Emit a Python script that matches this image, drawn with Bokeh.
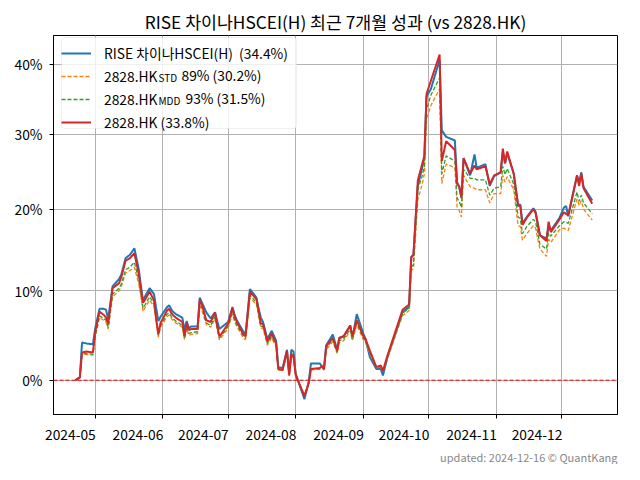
import pandas as pd
from bokeh.plotting import figure
from bokeh.models import (ColumnDataSource, Range1d, FixedTicker, CustomJSTickFormatter,
                          Span, Legend, LegendItem, Label, Title, BoxAnnotation)
from bokeh.embed import file_html
from bokeh.resources import INLINE

# ---------------- data (cumulative return, %) ----------------
dates = [
    "2024-04-22", "2024-04-24", "2024-04-25", "2024-04-27", "2024-04-30", "2024-05-01",
    "2024-05-03", "2024-05-05", "2024-05-06", "2024-05-07", "2024-05-09", "2024-05-12",
    "2024-05-13", "2024-05-15", "2024-05-17", "2024-05-19", "2024-05-21", "2024-05-22",
    "2024-05-23", "2024-05-24", "2024-05-26", "2024-05-28", "2024-05-29", "2024-05-30",
    "2024-05-31", "2024-06-03", "2024-06-04", "2024-06-05", "2024-06-06", "2024-06-07",
    "2024-06-10", "2024-06-11", "2024-06-12", "2024-06-13", "2024-06-14", "2024-06-17",
    "2024-06-18", "2024-06-19", "2024-06-21", "2024-06-23", "2024-06-25", "2024-06-26",
    "2024-06-27", "2024-06-28", "2024-07-01", "2024-07-03", "2024-07-04", "2024-07-05",
    "2024-07-08", "2024-07-09", "2024-07-10", "2024-07-11", "2024-07-14", "2024-07-15",
    "2024-07-16", "2024-07-17", "2024-07-19", "2024-07-21", "2024-07-23", "2024-07-24",
    "2024-07-26", "2024-07-28", "2024-07-29", "2024-07-30", "2024-07-31", "2024-08-01",
    "2024-08-05", "2024-08-07", "2024-08-08", "2024-08-12", "2024-08-13", "2024-08-14",
    "2024-08-15", "2024-08-18", "2024-08-20", "2024-08-21", "2024-08-23", "2024-08-26",
    "2024-08-27", "2024-08-29", "2024-09-01", "2024-09-02", "2024-09-04", "2024-09-07",
    "2024-09-09", "2024-09-10", "2024-09-12", "2024-09-19", "2024-09-22", "2024-09-23",
    "2024-09-24", "2024-09-26", "2024-09-28", "2024-09-29", "2024-09-30", "2024-10-02",
    "2024-10-06", "2024-10-07", "2024-10-09", "2024-10-13", "2024-10-14", "2024-10-15",
    "2024-10-16", "2024-10-17", "2024-10-20", "2024-10-22", "2024-10-23", "2024-10-27",
    "2024-10-29", "2024-10-31", "2024-11-03", "2024-11-04", "2024-11-05", "2024-11-06",
    "2024-11-09", "2024-11-11", "2024-11-12", "2024-11-13", "2024-11-15", "2024-11-18",
    "2024-11-19", "2024-11-21", "2024-11-24", "2024-11-25", "2024-11-26", "2024-11-30",
    "2024-12-02", "2024-12-03", "2024-12-04", "2024-12-08", "2024-12-09", "2024-12-10",
    "2024-12-11", "2024-12-15",
]

rise_hscei = [
    0.0, 0.3, 4.1, 4.0, 3.9, 5.6, 7.9, 7.9, 7.8, 6.7, 10.5, 11.4,
    11.9, 13.9, 14.3, 15.1, 12.6, 10.6, 8.8, 9.4, 10.3, 9.6, 8.0, 6.5,
    7.0, 8.1, 8.3, 7.8, 7.5, 7.3, 6.9, 5.5, 6.5, 5.7, 5.9, 5.9,
    9.2, 8.6, 7.5, 6.8, 7.5, 6.5, 5.6, 5.8, 6.4, 8.1, 7.2, 6.6,
    5.3, 5.0, 7.6, 10.2, 9.2, 7.9, 6.9, 6.4, 4.5, 5.4, 4.3, 1.4,
    1.3, 3.3, 0.7, 3.3, 3.1, 0.7, -2.0, -0.1, 1.8, 1.8, 1.5, 1.4,
    3.8, 5.0, 3.3, 4.6, 4.8, 6.0, 4.6, 7.3, 5.1, 4.5, 2.5, 1.2,
    1.2, 0.5, 2.4, 7.5, 8.1, 14.0, 14.3, 23.0, 25.4, 26.7, 35.3, 36.4,
    40.7, 30.5, 29.6, 29.1, 23.5, 22.9, 21.4, 26.7, 24.4, 27.2, 25.4, 25.9,
    23.0, 24.3, 24.8, 27.6, 26.0, 27.4, 24.6, 20.4, 20.6, 18.2, 19.0, 20.1,
    19.7, 16.7, 16.3, 17.8, 17.3, 18.9, 20.2, 20.4, 19.1, 24.4, 23.5, 24.8,
    22.9, 21.1,
]

hk_std89 = [
    0.0, 0.3, 2.7, 2.8, 2.7, 4.6, 6.9, 6.6, 6.4, 5.6, 9.3, 10.0,
    10.5, 12.1, 12.4, 12.8, 10.8, 9.3, 7.6, 8.1, 8.9, 8.2, 6.3, 4.7,
    5.8, 7.0, 7.2, 6.8, 6.5, 6.3, 5.8, 4.4, 5.7, 4.9, 5.0, 5.1,
    8.3, 7.7, 6.1, 5.8, 6.8, 5.5, 4.4, 4.7, 5.7, 7.3, 6.4, 5.9,
    4.6, 4.4, 6.8, 9.2, 8.4, 7.1, 5.7, 5.7, 3.8, 4.6, 3.6, 1.1,
    1.0, 2.9, 0.5, 2.6, 2.4, 0.5, -1.5, -0.3, 1.1, 1.2, 1.3, 1.1,
    3.3, 4.2, 2.9, 4.1, 4.3, 5.4, 4.3, 6.1, 4.4, 4.1, 2.9, 1.3,
    1.4, 0.9, 2.3, 7.1, 7.7, 12.4, 12.6, 21.2, 23.2, 24.6, 32.1, 34.0,
    36.4, 23.3, 25.9, 25.4, 20.3, 19.8, 19.0, 24.4, 22.9, 22.7, 22.5, 22.5,
    20.8, 22.0, 22.0, 24.4, 23.5, 24.2, 22.5, 17.9, 17.8, 16.1, 16.9, 17.9,
    17.6, 15.0, 14.1, 16.2, 15.8, 17.4, 17.6, 17.4, 17.3, 21.3, 20.5, 21.1,
    20.0, 18.6,
]

hk_mdd93 = [
    0.0, 0.3, 2.8, 2.9, 2.8, 4.8, 7.1, 6.8, 6.6, 5.8, 9.6, 10.3,
    10.8, 12.5, 12.8, 13.4, 11.3, 9.7, 8.0, 8.4, 9.3, 8.5, 6.6, 4.9,
    6.0, 7.3, 7.4, 7.0, 6.7, 6.5, 6.0, 4.6, 5.9, 5.1, 5.2, 5.3,
    8.6, 8.0, 6.3, 6.0, 7.0, 5.7, 4.6, 4.9, 5.9, 7.6, 6.6, 6.1,
    4.8, 4.6, 7.0, 9.5, 8.6, 7.3, 5.9, 5.9, 4.0, 4.8, 3.8, 1.2,
    1.1, 3.0, 0.5, 2.7, 2.5, 0.5, -1.6, -0.3, 1.2, 1.2, 1.4, 1.1,
    3.5, 4.4, 3.0, 4.3, 4.5, 5.6, 4.5, 6.3, 4.6, 4.3, 3.0, 1.3,
    1.5, 0.9, 2.4, 7.4, 8.0, 12.8, 13.1, 22.5, 24.3, 25.6, 33.4, 35.5,
    38.0, 24.6, 27.0, 26.3, 21.4, 21.0, 20.2, 25.2, 24.0, 24.0, 23.8, 23.8,
    21.8, 22.7, 22.9, 25.6, 24.5, 25.3, 23.2, 19.0, 18.8, 16.9, 17.8, 18.7,
    18.4, 15.6, 15.0, 17.0, 16.6, 17.9, 18.4, 18.3, 18.2, 22.2, 21.0, 21.8,
    20.8, 19.4,
]

hk_2828 = [
    0.0, 0.3, 3.0, 3.1, 3.0, 5.2, 7.6, 7.2, 6.9, 6.2, 10.3, 10.9,
    11.6, 13.6, 13.9, 14.5, 12.0, 10.2, 8.6, 9.0, 9.9, 8.9, 6.8, 5.0,
    6.3, 7.7, 7.9, 7.4, 7.1, 6.9, 6.4, 4.8, 6.3, 5.5, 5.6, 5.6,
    9.0, 8.4, 6.6, 6.4, 7.5, 6.0, 4.8, 5.1, 6.2, 8.0, 7.0, 6.4,
    5.0, 4.8, 7.3, 9.9, 9.0, 7.7, 6.2, 6.2, 4.2, 5.1, 4.0, 1.2,
    1.1, 3.2, 0.5, 2.8, 2.6, 0.55, -1.7, -0.3, 1.2, 1.3, 1.5, 1.2,
    3.7, 4.6, 3.2, 4.6, 4.8, 6.0, 4.8, 6.6, 4.8, 4.5, 3.2, 1.4,
    1.6, 1.0, 2.6, 7.8, 8.4, 14.0, 14.3, 23.7, 25.9, 27.0, 35.7, 37.6,
    41.5, 26.3, 29.0, 27.8, 23.3, 22.9, 21.6, 26.7, 24.6, 25.7, 25.2, 25.6,
    23.2, 24.4, 24.8, 28.0, 26.0, 27.6, 24.6, 20.5, 20.4, 18.0, 18.9, 20.0,
    19.5, 16.7, 16.0, 18.4, 17.1, 18.7, 19.6, 19.4, 19.2, 24.3, 23.0, 24.6,
    22.7, 20.7,
]

month_ticks = ["2024-05-01", "2024-06-01", "2024-07-01", "2024-08-01",
               "2024-09-01", "2024-10-01", "2024-11-01", "2024-12-01"]
y_tick_pct = [0, 10, 20, 30, 40]

title_text = "RISE 차이나HSCEI(H) 최근 7개월 성과 (vs 2828.HK)"
legend_rise = "RISE 차이나HSCEI(H)  (34.4%)"
legend_hk = "2828.HK"
legend_std_sub = "STD"
legend_std_tail = "89%  (30.2%)"
legend_mdd_sub = "MDD"
legend_mdd_tail = "93%  (31.5%)"
legend_2828 = "2828.HK (33.8%)"
footer_text = "updated: 2024-12-16 \u00a9 QuantKang"

FONT = "Noto Sans CJK KR"
FS = "13.8px"

# ---------------- source ----------------
df = pd.DataFrame({
    "date": pd.to_datetime(dates),
    "rise": [1 + v / 100 for v in rise_hscei],
    "std": [1 + v / 100 for v in hk_std89],
    "mdd": [1 + v / 100 for v in hk_mdd93],
    "hk": [1 + v / 100 for v in hk_2828],
})
src = ColumnDataSource(df)

# frame: left 53, top 35, right border 7, bottom border 44  -> frame 564 x 385
TOP, BOTTOM = 35, 44
p = figure(width=624, height=464, x_axis_type="datetime", y_axis_type="log",
           x_range=Range1d(pd.Timestamp("2024-04-11 22:00"), pd.Timestamp("2024-12-26 14:00")),
           y_range=Range1d(0.9641, 1.4439),
           output_backend="svg", toolbar_location=None,
           min_border_left=53, min_border_right=7, min_border_top=TOP, min_border_bottom=BOTTOM)
FRAME_BOTTOM = 464 - BOTTOM   # canvas y of the frame bottom


def sy(canvas_y):
    """screen-unit y (from frame bottom) for a canvas y."""
    return FRAME_BOTTOM - canvas_y


p.title.text = title_text
p.title.align = "center"
p.title.text_font = FONT
p.title.text_font_size = "17.3px"
p.title.text_font_style = "normal"
p.title.text_color = "black"
p.title.standoff = 4

p.outline_line_color = "black"
p.outline_line_width = 1
p.background_fill_color = "white"

# axes
tick_ms = [int(pd.Timestamp(t).value // 10**6) for t in month_ticks]
xt = FixedTicker(ticks=tick_ms, minor_ticks=[])
p.xaxis.ticker = xt
p.xgrid.ticker = xt
p.xaxis.formatter = CustomJSTickFormatter(code="""
    const d = new Date(tick);
    const m = d.getUTCMonth() + 1;
    return d.getUTCFullYear() + "-" + (m < 10 ? "0" : "") + m + "\\u00a0".repeat(16);
""")
yt = FixedTicker(ticks=[1 + v / 100 for v in y_tick_pct], minor_ticks=[])
p.yaxis.ticker = yt
p.ygrid.ticker = yt
p.yaxis.formatter = CustomJSTickFormatter(code="return Math.round((tick - 1) * 100) + '%';")

for ax in (p.xaxis[0], p.yaxis[0]):
    ax.axis_line_color = "black"
    ax.major_tick_line_color = "black"
    ax.major_tick_out = 4
    ax.major_tick_in = 0
    ax.minor_tick_line_color = None
    ax.major_label_text_font = FONT
    ax.major_label_text_font_size = FS
    ax.major_label_text_color = "black"
p.yaxis.major_label_standoff = 7
p.xaxis.major_label_standoff = 5

p.xgrid.grid_line_color = "#b0b0b0"
p.ygrid.grid_line_color = "#b0b0b0"

# legend frame (drawn above the grid, below the legend texts)
p.add_layout(BoxAnnotation(left=8, right=243, top=sy(43), bottom=sy(134),
                           left_units="screen", right_units="screen",
                           top_units="screen", bottom_units="screen",
                           fill_color="white", fill_alpha=0.8,
                           line_color="#cccccc", line_width=1, border_radius=3,
                           level="underlay"))

# zero line
p.add_layout(Span(location=1.0, dimension="width", line_color="red",
                  line_dash="4 2", line_width=1))

# series
r_rise = p.line("date", "rise", source=src, color="#1f77b4", line_width=2)
r_std = p.line("date", "std", source=src, color="#ff7f0e", line_width=1.3, line_dash="4 2")
r_mdd = p.line("date", "mdd", source=src, color="#2ca02c", line_width=1.3, line_dash="4 2")
r_hk = p.line("date", "hk", source=src, color="#d62728", line_width=2)

legend = Legend(items=[
    LegendItem(label=legend_rise, renderers=[r_rise]),
    LegendItem(label=legend_hk, renderers=[r_std]),
    LegendItem(label=legend_hk, renderers=[r_mdd]),
    LegendItem(label=legend_2828, renderers=[r_hk]),
], location="top_left")
legend.margin = 8
legend.padding = 1
legend.spacing = 3
legend.label_height = 20
legend.glyph_height = 20
legend.glyph_width = 30
legend.label_standoff = 13
legend.label_text_font = FONT
legend.label_text_font_size = FS
legend.label_text_color = "black"
legend.border_line_color = None
legend.background_fill_alpha = 0
p.add_layout(legend)

# subscripts and tails of legend rows 2, 3 (screen units: from frame bottom-left)
row_centers = [80, 103]  # canvas y of the text centres of legend rows 2 and 3
for (sub, tail, sub_x, tail_x), cy in zip([(legend_std_sub, legend_std_tail, 158, 181),
                                           (legend_mdd_sub, legend_mdd_tail, 158, 185)],
                                          row_centers):
    p.add_layout(Label(x=sub_x - 53, y=sy(cy + 3), x_units="screen", y_units="screen",
                       text=sub, text_font=FONT, text_font_size="10px", text_color="black",
                       text_baseline="middle"))
    p.add_layout(Label(x=tail_x - 53, y=sy(cy), x_units="screen", y_units="screen",
                       text=tail, text_font=FONT, text_font_size=FS, text_color="black",
                       text_baseline="middle"))

footer = Title(text=footer_text, align="right", text_font=FONT, text_font_size="11px",
               text_color="#888888", text_font_style="normal", standoff=0, offset=0)
p.add_layout(footer, "below")

open("out.html", "w").write(file_html(p, INLINE))
